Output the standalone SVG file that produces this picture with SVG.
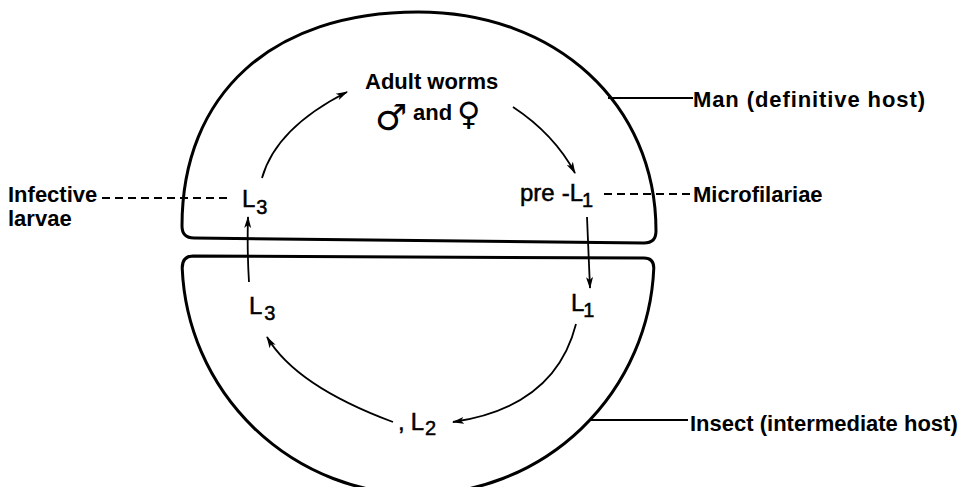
<svg xmlns="http://www.w3.org/2000/svg" width="965" height="487" viewBox="0 0 965 487">
<defs>
<style>
.shape{fill:none;stroke:#000;stroke-width:3;stroke-linejoin:round}
.arrow{fill:none;stroke:#000;stroke-width:1.8;marker-end:url(#ah)}
.lead{fill:none;stroke:#000;stroke-width:2}
.dash{fill:none;stroke:#000;stroke-width:2;stroke-dasharray:8 5}
.lbl{font-family:"Liberation Sans",Arial,sans-serif;font-weight:bold;font-size:22px;fill:#000}
.stage{font-family:"Liberation Sans",Arial,sans-serif;font-size:24px;fill:#000;stroke:#000;stroke-width:0.5}
.sub{font-size:20px}
.sym{font-family:"DejaVu Sans",sans-serif;fill:#000}
</style>
<marker id="ah" viewBox="0 0 12 8" refX="11" refY="4" markerWidth="12" markerHeight="8" markerUnits="userSpaceOnUse" orient="auto">
<path d="M0,0.5 L12,4 L0,7.5 L3,4 Z" fill="#000"/>
</marker>
</defs>
<rect width="965" height="487" fill="#fff"/>

<g id="man-host">
<path class="shape" d="M182,226 C182,94 272,12 418,12 C556,12 656,104 656,231 Q656,243 644,243 L194,238 Q182,238 182,226 Z"/>
</g>
<g id="insect-host">
<path class="shape" d="M193,256 L644,258 Q653.8,258 653.8,268 A236 236 0 0 1 182.2,268 Q182.2,256 193,256 Z"/>
</g>

<g id="adult-worms">
<text class="lbl" x="365" y="89">Adult worms</text>
<text x="375" y="130"><tspan class="sym" font-size="36">♂</tspan><tspan class="lbl" font-size="19px" x="413" y="120">and</tspan><tspan class="sym" font-size="32" x="457" y="125">♀</tspan></text>
</g>

<g id="pre-L1">
<text class="stage" x="520" y="201">pre<tspan dx="7">-L</tspan><tspan class="sub" dx="-1" dy="6">1</tspan></text>
</g>
<g id="L3-upper">
<text class="stage" x="242" y="207">L<tspan class="sub" dx="1" dy="7">3</tspan></text>
</g>
<g id="L3-lower">
<text class="stage" x="249" y="314">L<tspan class="sub" dx="2" dy="6">3</tspan></text>
</g>
<g id="L1-lower">
<text class="stage" x="571" y="311">L<tspan class="sub" dx="-1" dy="6">1</tspan></text>
</g>
<g id="L2">
<text class="stage" x="398" y="430">,<tspan dx="6">L</tspan><tspan class="sub" dx="1" dy="5">2</tspan></text>
</g>

<g id="label-man">
<text class="lbl" x="693" y="107" textLength="232" lengthAdjust="spacing">Man  (definitive host)</text>
</g>
<g id="label-microfilariae">
<text class="lbl" x="693" y="202">Microfilariae</text>
</g>
<g id="label-infective">
<text class="lbl" x="8" y="202">Infective</text>
<text class="lbl" x="8" y="226">larvae</text>
</g>
<g id="label-insect">
<text class="lbl" x="690" y="431">Insect (intermediate host)</text>
</g>

<g id="connectors">
<path class="arrow" d="M262,178 Q276,128 347,92"/>
<path class="arrow" d="M513,107 Q554,134 575,173"/>
<path class="arrow" d="M587,217 L590,288"/>
<path class="arrow" d="M576,324 Q555,407 453,422"/>
<path class="arrow" d="M393,422 Q296,386 267,337"/>
<path class="arrow" d="M249,282 Q247,250 248,217"/>
<path class="lead" d="M608,98 L693,98"/>
<path class="lead" d="M590,420 L688,420"/>
<path class="dash" d="M604,194 L691,194"/>
<path class="dash" d="M102,198 L229,198"/>
</g>
</svg>
